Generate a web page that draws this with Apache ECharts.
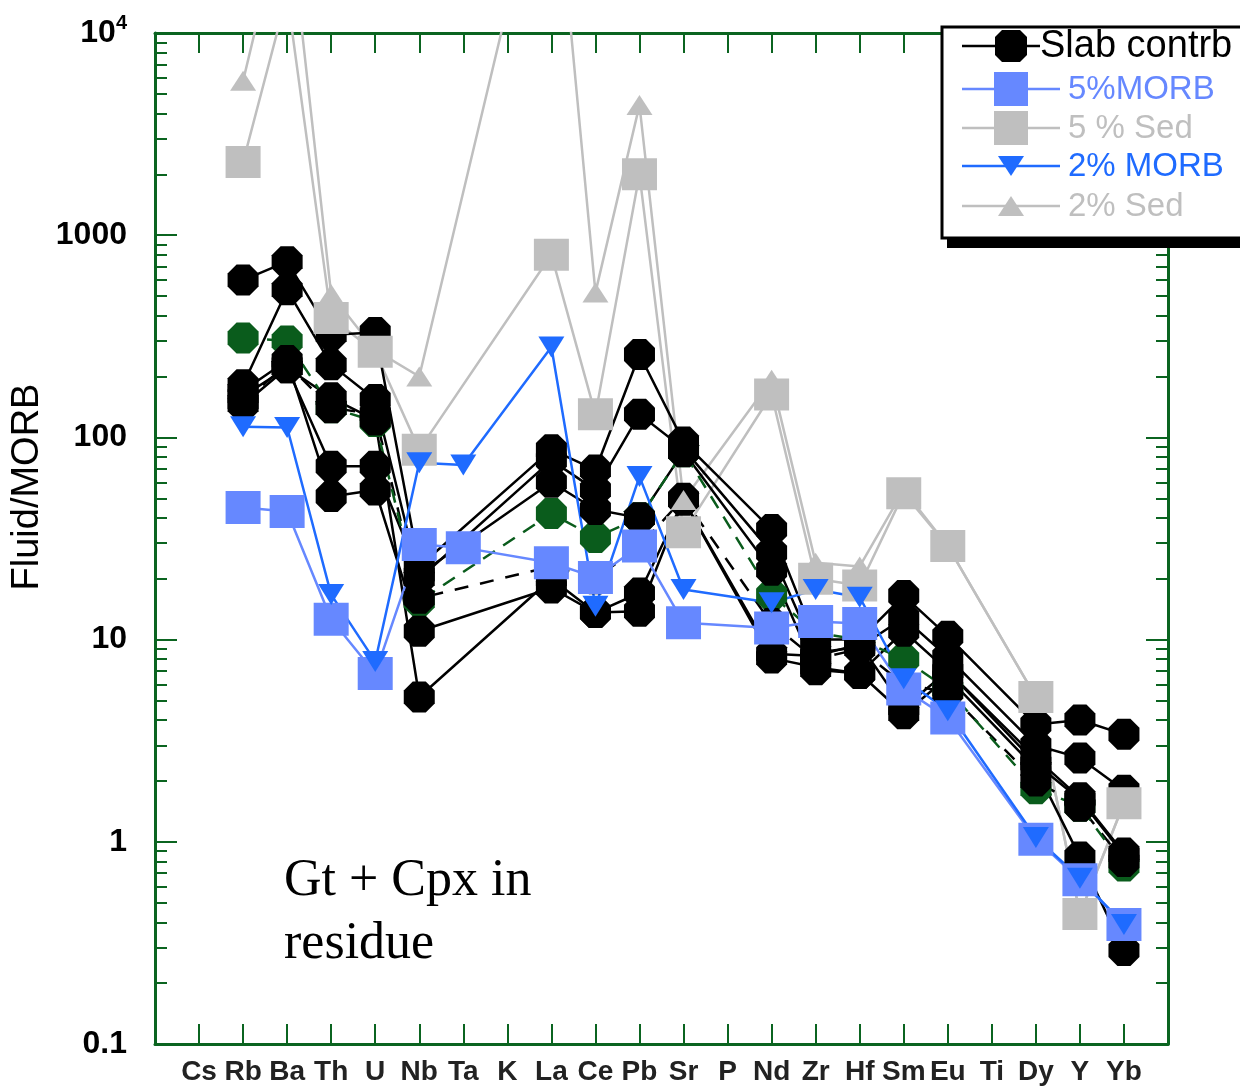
<!DOCTYPE html>
<html>
<head>
<meta charset="utf-8">
<script src="https://cdn.jsdelivr.net/npm/echarts@6/dist/echarts.min.js"></script>
<style>html,body{margin:0;padding:0;background:#fff}#c{width:1240px;height:1088px}</style>
</head>
<body>
<div id="c"></div>
<script>
// ---- categories / tick labels ----
var elements = ['Cs','Rb','Ba','Th','U','Nb','Ta','K','La','Ce','Pb','Sr','P','Nd','Zr','Hf','Sm','Eu','Ti','Dy','Y','Yb'];
var yTickLabels = ['0.1','1','10','100','1000','{n|10}{sup|4}'];
var minorTickValues = [2,3,4,5,6,7,8,9];

// ---- series values (Fluid/MORB), null = no point ----
//               Cs   Rb    Ba    Th   U    Nb   Ta   K    La     Ce    Pb    Sr   P    Nd   Zr   Hf   Sm   Eu   Ti   Dy   Y    Yb
var slab1      = [null,600,  740,  322, 330, 23,  null,null,87,    69,   257,  95,  null,35,  10,  10,  16.5,10.4,null,3.8, 4.0, 3.4];
var slab2      = [null,182,  537,  229, 154, 20,  null,null,77,    55,   130,  88,  null,27,  8.6, 9.2, 12.8,8.2, null,3.0, 2.6, 1.8];
var slab3      = [null,160,  221,  72,  72,  21,  null,null,60,    44,   40,   85,  null,22,  7.1, 6.8, 11,  7.0, null,2.44,1.62,0.86];
var slab4      = [null,145,  221,  157, 122, 5.2, null,null,20,    13.6, 17,   49,  null,8.1, 7.3, 6.8, 4.3, 6.5, null,2.3, 0.84,0.29];
var slab5      = [null,170,  240,  51,  55,  11,  null,null,18,    13.6, 13.8, 49,  null,8.5, 8.3, 9.5, 4.6, 7.0, null,2.6, 1.65,0.88];
var slabDashed = [null,150,  230,  140, 130, 16,  null,null,23,    20,   29,   50,  null,12,  8,   9,   6,   5.5, null,2.0, 1.5, 0.8];
var slabGreen  = [null,310,  300,  140, 120, 15.5,null,null,42,    32,   40,   85,  null,16.6,10.8,10,  8,   5.7, null,1.83,1.5, 0.76];
var morb5      = [null,45,   43,   12.6,6.8, 29.5,28.5,null,24,    20.3, 29,   12.1,null,11.4,12.3,12,  5.7, 4.1, null,1.03,0.65,0.39];
var sed5       = [null,2300, 15500,390, 265, 87,  null,null,800,   130,  2000, 34,  null,163, 20,  18.5,53,  29,  null,5.2, 0.44,1.55];
var morb2      = [null,113,  112,  16.7,7.8, 75,  73,  null,280,   14.6, 64,   17.7,null,15.2,17.7,16.2,6.4, 4.45,null,1.05,0.66,0.39];
var sed2       = [null,5800, 47000,510, 270, 200, null,null,110000,520,  4400, 49,  null,193, 24,  23,  55,  29,  null,5.2, 0.44,1.55];

// ---- styles ----
var AXIS = '#0b6420', BLACK = '#000000', GREEN = '#0a5c1c', GRAY = '#bfbfbf', LBLUE = '#6688ff', BLUE = '#1f6bff';
var OCT = 'path://M29,0 L71,0 L100,29 L100,71 L71,100 L29,100 L0,71 L0,29 Z';

function pairs(arr){ var out=[]; for(var i=0;i<arr.length;i++){ if(arr[i]!=null) out.push([i+1, arr[i]]); } return out; }

var layers = [
  {d: sed2,  color: GRAY,  width: 2.5, type: 'solid',  sym: 'triangle', size: [26,20], rot: 0,   lz: 2, mz: 5},
  {d: sed5,  color: GRAY,  width: 2.5, type: 'solid',  sym: 'rect',     size: [35,32], rot: 0,   lz: 2, mz: 6},
  {d: slabDashed, color: BLACK, width: 2.5, type: [14,12], sym: OCT,    size: [31,31], rot: 0,   lz: 2, mz: 4},
  {d: slab1, color: BLACK, width: 2.5, type: 'solid',  sym: OCT,        size: [31,31], rot: 0,   lz: 2, mz: 4},
  {d: slab2, color: BLACK, width: 2.5, type: 'solid',  sym: OCT,        size: [31,31], rot: 0,   lz: 2, mz: 4},
  {d: slab3, color: BLACK, width: 2.5, type: 'solid',  sym: OCT,        size: [31,31], rot: 0,   lz: 2, mz: 4},
  {d: slab4, color: BLACK, width: 2.5, type: 'solid',  sym: OCT,        size: [31,31], rot: 0,   lz: 2, mz: 4},
  {d: slab5, color: BLACK, width: 2.5, type: 'solid',  sym: OCT,        size: [31,31], rot: 0,   lz: 2, mz: 4},
  {d: slabGreen, color: GREEN, width: 2.5, type: [14,10], sym: OCT,     size: [31,31], rot: 0,   lz: 2, mz: 3},
  {d: morb5, color: LBLUE, width: 2.5, type: 'solid',  sym: 'rect',     size: [35,33], rot: 0,   lz: 2, mz: 7},
  {d: morb2, color: BLUE,  width: 2.5, type: 'solid',  sym: 'triangle', size: [26,21], rot: 180, lz: 2, mz: 8}
];

var series = [];
layers.forEach(function(L){
  series.push({type:'line', data: pairs(L.d), symbol:'none', z: L.lz, silent:true, animation:false,
    lineStyle:{color:L.color, width:L.width, type:L.type}});
});
layers.slice().sort(function(a,b){return a.mz-b.mz;}).forEach(function(L){
  series.push({type:'scatter', data: pairs(L.d), symbol:L.sym, symbolSize:L.size, symbolRotate:L.rot,
    z: L.mz, silent:true, animation:false, itemStyle:{color:L.color, opacity:1}});
});

var minorLogs = [];
for (var k=-1;k<4;k++){ minorTickValues.forEach(function(m){ minorLogs.push(k+Math.log10(m)); }); }

var font = 'Arial, "Liberation Sans", sans-serif';
function helperY(pos){
  return {type:'value', min:-1, max:4, position:pos, gridIndex:0,
    axisLine:{show:false, onZero:false}, axisLabel:{show:false}, splitLine:{show:false},
    axisTick:{show:true, inside:true, length:12, lineStyle:{color:AXIS,width:2}, customValues:minorLogs}};
}
function xAx(pos, labels){
  return {type:'value', min:0, max:23, interval:1, position:pos,
    axisLine:{show:true, onZero:false, lineStyle:{color:AXIS,width:3}},
    axisTick:{show:true, inside:true, length:20, lineStyle:{color:AXIS,width:2}},
    splitLine:{show:false},
    axisLabel:{show:labels, margin:14, color:'#222', fontSize:28, fontWeight:'bold', fontFamily:font,
      formatter:function(v){ return elements[v-1] || ''; }}};
}
function logY(pos, labels){
  return {type:'log', logBase:10, min:0.1, max:10000, position:pos,
    axisLine:{show:true, onZero:false, lineStyle:{color:AXIS,width:3}},
    axisTick:{show:true, inside:true, length:22, lineStyle:{color:AXIS,width:2}},
    splitLine:{show:false}, minorTick:{show:false},
    axisLabel:{show:labels, margin:28, color:'#000', fontSize:32, fontWeight:'bold', fontFamily:font,
      formatter:function(v){ return yTickLabels[Math.round(Math.log10(v))+1]; },
      rich:{n:{fontSize:32, fontWeight:'bold', fontFamily:font, color:'#000', lineHeight:40},
            sup:{fontSize:20, fontWeight:'bold', fontFamily:font, color:'#000', verticalAlign:'top'}}}};
}

// legend drawn as graphics
function oct(cx, cy, r, c){ return [[cx-r+c,cy-r],[cx+r-c,cy-r],[cx+r,cy-r+c],[cx+r,cy+r-c],[cx+r-c,cy+r],[cx-r+c,cy+r],[cx-r,cy+r-c],[cx-r,cy-r+c]]; }
var legendRows = [
  {label:'Slab contrb', color:BLACK, textColor:BLACK, y:46, sym:'oct', lineEnd:1040, tx:1040, fs:38},
  {label:'5%MORB', color:LBLUE, textColor:LBLUE, y:89, sym:'rect', lineEnd:1060, tx:1068, fs:33},
  {label:'5 % Sed', color:GRAY, textColor:GRAY, y:128, sym:'rect', lineEnd:1060, tx:1068, fs:33},
  {label:'2% MORB', color:BLUE, textColor:BLUE, y:166, sym:'down', lineEnd:1060, tx:1068, fs:33},
  {label:'2% Sed', color:GRAY, textColor:GRAY, y:206, sym:'up', lineEnd:1060, tx:1068, fs:33}
];
var gfx = [
  {type:'rect', z:100, shape:{x:947, y:37, width:320, height:211}, style:{fill:'#000'}},
  {type:'rect', z:101, shape:{x:942, y:27, width:320, height:211}, style:{fill:'#fff', stroke:'#000', lineWidth:3}}
];
legendRows.forEach(function(r){
  gfx.push({type:'line', z:102, shape:{x1:962, y1:r.y, x2:r.lineEnd, y2:r.y}, style:{stroke:r.color, lineWidth:2.5}});
  var cx = 1011;
  if (r.sym==='oct') gfx.push({type:'polygon', z:103, shape:{points:oct(cx, r.y, 16, 7)}, style:{fill:r.color}});
  if (r.sym==='rect') gfx.push({type:'rect', z:103, shape:{x:cx-17, y:r.y-17, width:34, height:34}, style:{fill:r.color}});
  if (r.sym==='down') gfx.push({type:'polygon', z:103, shape:{points:[[cx-13,r.y-10],[cx+13,r.y-10],[cx,r.y+10]]}, style:{fill:r.color}});
  if (r.sym==='up') gfx.push({type:'polygon', z:103, shape:{points:[[cx-13,r.y+10],[cx+13,r.y+10],[cx,r.y-10]]}, style:{fill:r.color}});
  gfx.push({type:'text', z:104, x:r.tx, y:r.y+1, style:{text:r.label, fill:r.textColor, fontSize:r.fs, fontFamily:font,
    align:'left', verticalAlign:'middle', textAlign:'left', textVerticalAlign:'middle'}});
});
gfx.push({type:'text', z:50, x:28, y:487, rotation:Math.PI/2,
  style:{text:'Fluid/MORB', fill:'#000', fontSize:38, fontFamily:font, align:'center', verticalAlign:'middle', textAlign:'center', textVerticalAlign:'middle'}});
gfx.push({type:'text', z:50, x:284, y:850,
  style:{text:'Gt + Cpx in\nresidue', fill:'#000', fontSize:52, lineHeight:63, fontFamily:'"Liberation Serif", "Times New Roman", serif', align:'left', verticalAlign:'top', textAlign:'left', textVerticalAlign:'top'}});

var chart = echarts.init(document.getElementById('c'), null, {renderer:'canvas'});
chart.setOption({
  animation:false,
  backgroundColor:'#fff',
  grid:{left:155, right:72, top:33, bottom:44, containLabel:false},
  xAxis:[xAx('bottom', true), xAx('top', false)],
  yAxis:[logY('left', true), logY('right', false), helperY('left'), helperY('right')],
  series: series,
  graphic: gfx
});
</script>
</body>
</html>
